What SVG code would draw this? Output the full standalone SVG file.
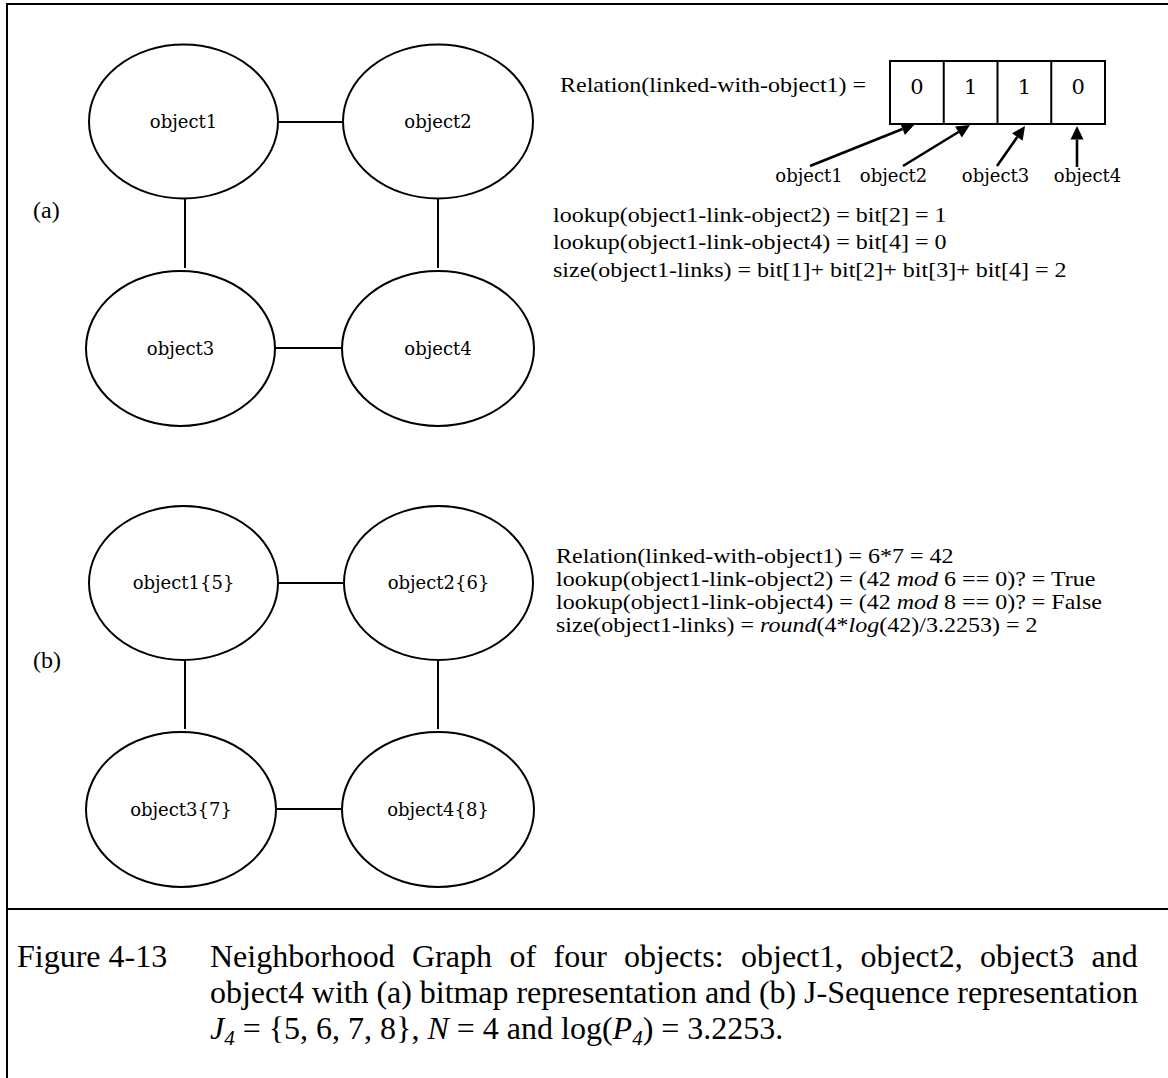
<svg xmlns="http://www.w3.org/2000/svg" width="1168" height="1078" viewBox="0 0 1168 1078">
<defs>
<style>
.frame{fill:none;stroke:#000;stroke-width:2}
.node{fill:#fff;stroke:#000;stroke-width:2}
.edge{stroke:#000;stroke-width:2;fill:none}
.arrow{stroke:#000;stroke-width:2.6;fill:none}
.lbl{font-family:"DejaVu Serif","Liberation Serif",serif;font-size:18px;fill:#000;text-anchor:middle}
.dig{font-family:"DejaVu Serif","Liberation Serif",serif;font-size:21px;fill:#000;text-anchor:middle}
.txt{font-family:"Liberation Serif","Times New Roman",serif;font-size:21px;fill:#000}
.sub{font-family:"Liberation Serif","Times New Roman",serif;font-size:24px;fill:#000}
.cap{font-family:"Liberation Serif","Times New Roman",serif;font-size:32px;fill:#000}
.it{font-style:italic}
</style>
<marker id="ah" markerUnits="userSpaceOnUse" markerWidth="14" markerHeight="14" viewBox="0 -7 14 14" refX="0" refY="0" orient="auto" overflow="visible">
<path d="M0,-6.5 L13.5,0 L0,6.5 z" fill="#000"/>
</marker>
</defs>
<rect width="1168" height="1078" fill="#fff"/>
<g id="frame">
<path class="frame" d="M7,1090 V4 H1180"/>
<line class="frame" x1="7" y1="909" x2="1180" y2="909"/>
</g>
<g id="connectors">
<line class="edge" x1="278" y1="122" x2="343" y2="122"/>
<line class="edge" x1="185" y1="198" x2="185" y2="268"/>
<line class="edge" x1="438" y1="198" x2="438" y2="268"/>
<line class="edge" x1="275" y1="348" x2="342" y2="348"/>
<line class="edge" x1="278" y1="583" x2="344" y2="583"/>
<line class="edge" x1="185" y1="660" x2="185" y2="729"/>
<line class="edge" x1="438" y1="660" x2="438" y2="729"/>
<line class="edge" x1="276" y1="809" x2="342" y2="809"/>
<line class="arrow" x1="810" y1="166" x2="902.5" y2="129" marker-end="url(#ah)"/>
<line class="arrow" x1="903" y1="166" x2="958.5" y2="132" marker-end="url(#ah)"/>
<line class="arrow" x1="997" y1="166" x2="1017.3" y2="137" marker-end="url(#ah)"/>
<line class="arrow" x1="1077" y1="167" x2="1077" y2="139.5" marker-end="url(#ah)"/>
</g>
<g id="a-object1"><ellipse class="node" cx="183.5" cy="121.5" rx="94.5" ry="77"/><text class="lbl" x="183.5" y="128">object1</text></g>
<g id="a-object2"><ellipse class="node" cx="438" cy="121.5" rx="95" ry="77"/><text class="lbl" x="438" y="128">object2</text></g>
<g id="a-object3"><ellipse class="node" cx="180.5" cy="348.5" rx="94.5" ry="77.5"/><text class="lbl" x="180.5" y="355">object3</text></g>
<g id="a-object4"><ellipse class="node" cx="438" cy="348.5" rx="96" ry="77.5"/><text class="lbl" x="438" y="355">object4</text></g>
<g id="b-object1"><ellipse class="node" cx="183.5" cy="583" rx="94.5" ry="77"/><text class="lbl" x="183.5" y="589">object1{5}</text></g>
<g id="b-object2"><ellipse class="node" cx="438.5" cy="583" rx="94.5" ry="77"/><text class="lbl" x="438.5" y="589">object2{6}</text></g>
<g id="b-object3"><ellipse class="node" cx="181" cy="809.5" rx="95" ry="77.5"/><text class="lbl" x="181" y="816">object3{7}</text></g>
<g id="b-object4"><ellipse class="node" cx="438" cy="809.5" rx="96" ry="77.5"/><text class="lbl" x="438" y="816">object4{8}</text></g>
<g id="bitmap">
<rect class="frame" x="890" y="61" width="215" height="63"/>
<line class="frame" x1="943.75" y1="61" x2="943.75" y2="124"/>
<line class="frame" x1="997.5" y1="61" x2="997.5" y2="124"/>
<line class="frame" x1="1051.25" y1="61" x2="1051.25" y2="124"/>
<text class="dig" x="917" y="94">0</text>
<text class="dig" x="970.6" y="94">1</text>
<text class="dig" x="1024.4" y="94">1</text>
<text class="dig" x="1078.1" y="94">0</text>
</g>
<g id="bit-labels">
<text class="lbl" x="809" y="182">object1</text>
<text class="lbl" x="893.5" y="182">object2</text>
<text class="lbl" x="995.5" y="182">object3</text>
<text class="lbl" x="1087.5" y="182">object4</text>
</g>
<g id="labels">
<text class="sub" x="33" y="218">(a)</text>
<text class="sub" x="33" y="668">(b)</text>
<g transform="translate(560 0) scale(1.143 1)">
<text class="txt" x="0" y="92">Relation(linked-with-object1) =</text>
</g>
<g transform="translate(553 0) scale(1.143 1)">
<text class="txt" x="0" y="222">lookup(object1-link-object2) = bit[2] = 1</text>
<text class="txt" x="0" y="249.5">lookup(object1-link-object4) = bit[4] = 0</text>
<text class="txt" x="0" y="277">size(object1-links) = bit[1]+ bit[2]+ bit[3]+ bit[4] = 2</text>
</g>
<g transform="translate(556 0) scale(1.143 1)">
<text class="txt" x="0" y="563">Relation(linked-with-object1) = 6*7 = 42</text>
<text class="txt" x="0" y="586">lookup(object1-link-object2) = (42 <tspan class="it">mod</tspan> 6 == 0)? = True</text>
<text class="txt" x="0" y="609">lookup(object1-link-object4) = (42 <tspan class="it">mod</tspan> 8 == 0)? = False</text>
<text class="txt" x="0" y="632">size(object1-links) = <tspan class="it">round</tspan>(4*<tspan class="it">log</tspan>(42)/3.2253) = 2</text>
</g>
</g>
<g id="caption">
<text class="cap" x="17" y="967">Figure 4-13</text>
<text class="cap" y="967"><tspan x="210">Neighborhood</tspan><tspan x="412">Graph</tspan><tspan x="509.5">of</tspan><tspan x="553.5">four</tspan><tspan x="624">objects:</tspan><tspan x="741">object1,</tspan><tspan x="860.5">object2,</tspan><tspan x="980">object3</tspan><tspan x="1091.5">and</tspan></text>
<text class="cap" x="210" y="1003" textLength="928" lengthAdjust="spacing">object4 with (a) bitmap representation and (b) J-Sequence representation</text>
<text class="cap" x="210" y="1039"><tspan class="it">J</tspan><tspan class="it" font-size="21" dy="6">4</tspan><tspan dy="-6"> = {5, 6, 7, 8}, </tspan><tspan class="it">N</tspan> = 4 and log(<tspan class="it">P</tspan><tspan class="it" font-size="21" dy="6">4</tspan><tspan dy="-6">) = 3.2253.</tspan></text>
</g>
</svg>
